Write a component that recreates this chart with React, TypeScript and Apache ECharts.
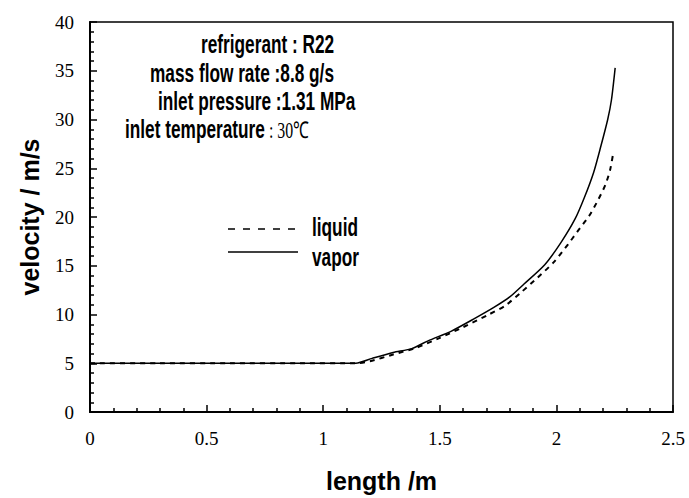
import React, { useEffect, useRef } from "react";
import * as echarts from "echarts";

const vaporLength = [0, 0.3, 0.6, 0.9, 1.14, 1.21, 1.3, 1.38, 1.45, 1.55, 1.65, 1.73, 1.8, 1.86, 1.95, 2.02, 2.08, 2.12, 2.16, 2.19, 2.22, 2.236, 2.252];
const vaporVelocity = [5.0, 5.0, 5.0, 5.0, 5.0, 5.5, 6.1, 6.5, 7.3, 8.3, 9.6, 10.7, 11.8, 13.1, 15.1, 17.4, 19.8, 22.0, 24.6, 27.2, 30.0, 32.0, 35.3];

const liquidLength = [0, 0.3, 0.6, 0.9, 1.14, 1.2, 1.3, 1.4, 1.5, 1.6, 1.71, 1.78, 1.85, 1.92, 1.99, 2.05, 2.09, 2.14, 2.18, 2.21, 2.23, 2.244];
const liquidVelocity = [5.0, 5.0, 5.0, 5.0, 5.0, 5.2, 5.9, 6.6, 7.6, 8.7, 10.0, 10.9, 12.3, 13.8, 15.4, 17.2, 18.5, 20.1, 21.8, 23.3, 24.8, 26.6];

const annotationLines = [
  { text: "refrigerant : R22", x: 201, y: 45 },
  { text: "mass flow rate :8.8 g/s", x: 150, y: 74 },
  { text: "inlet pressure :1.31 MPa", x: 158, y: 102 },
];
const tempLabel = "inlet temperature";
const tempValue = " : 30℃";

const xName = "length /m";
const yName = "velocity / m/s";

export default function App() {
  const ref = useRef<HTMLDivElement>(null);
  useEffect(() => {
    if (!ref.current) return;
    const chart = echarts.init(ref.current, null, { renderer: "svg" });
    const sans = "Liberation Sans";
    const serif = "serif";
    const textStyleBold = (t: string) => ({
      text: t,
      fill: "#000",
      fontFamily: sans,
      fontWeight: "bold",
      fontSize: 25,
      verticalAlign: "middle",
      textAlign: "left",
    });
    const graphics: any[] = annotationLines.map((a) => ({
      type: "text",
      x: a.x,
      y: a.y,
      scaleX: 0.69,
      style: textStyleBold(a.text),
    }));
    graphics.push({
      type: "text",
      x: 125,
      y: 130,
      scaleX: 0.69,
      style: {
        text: `{b|${tempLabel}}{r|${tempValue}}`,
        verticalAlign: "middle",
        textAlign: "left",
        rich: {
          b: { fontFamily: sans, fontWeight: "bold", fontSize: 25, fill: "#000" },
          r: { fontFamily: serif, fontSize: 23, fill: "#000" },
        },
      },
    });
    graphics.push(
      { type: "line", shape: { x1: 228, y1: 229, x2: 298, y2: 229 }, style: { stroke: "#000", lineWidth: 1.5, lineDash: [7, 8] } },
      { type: "line", shape: { x1: 228, y1: 252, x2: 298, y2: 252 }, style: { stroke: "#000", lineWidth: 1.5 } },
      { type: "text", x: 312, y: 228, scaleX: 0.69, style: textStyleBold("liquid") },
      { type: "text", x: 312, y: 258, scaleX: 0.69, style: textStyleBold("vapor") }
    );

    const labelStyle = { fontFamily: serif, fontSize: 19, color: "#000" };

    chart.setOption({
      animation: false,
      backgroundColor: "#fff",
      textStyle: { fontFamily: serif },
      grid: { left: 90, right: 16, top: 22, bottom: 84, show: true, borderColor: "#000", borderWidth: 1.5, backgroundColor: "transparent" },
      xAxis: {
        type: "value",
        min: 0,
        max: 2.5,
        interval: 0.5,
        name: xName,
        nameLocation: "middle",
        nameGap: 56,
        nameTextStyle: { fontFamily: sans, fontWeight: "bold", fontSize: 25, color: "#000" },
        axisLine: { show: true, lineStyle: { color: "#000", width: 2 } },
        axisTick: { show: true, inside: true, length: 7, lineStyle: { color: "#000", width: 1.5 } },
        minorTick: { show: true, splitNumber: 5, length: 4, lineStyle: { color: "#000", width: 1.5 } },
        splitLine: { show: false },
        axisLabel: { ...labelStyle, margin: 17 },
      },
      yAxis: {
        type: "value",
        min: 0,
        max: 40,
        interval: 5,
        name: yName,
        nameLocation: "middle",
        nameGap: 48,
        nameTextStyle: { fontFamily: sans, fontWeight: "bold", fontSize: 25, color: "#000" },
        axisLine: { show: true, lineStyle: { color: "#000", width: 2 } },
        axisTick: { show: true, inside: true, length: 7, lineStyle: { color: "#000", width: 1.5 } },
        minorTick: { show: true, splitNumber: 5, length: 4, lineStyle: { color: "#000", width: 1.5 } },
        splitLine: { show: false },
        axisLabel: { ...labelStyle, margin: 16 },
      },
      series: [
        {
          name: "vapor",
          type: "line",
          data: vaporLength.map((x, i) => [x, vaporVelocity[i]]),
          showSymbol: false,
          smooth: 0.25,
          lineStyle: { color: "#000", width: 1.5, type: "solid" },
        },
        {
          name: "liquid",
          type: "line",
          data: liquidLength.map((x, i) => [x, liquidVelocity[i]]),
          showSymbol: false,
          smooth: 0.25,
          lineStyle: { color: "#000", width: 2, type: [5, 5] },
        },
      ],
      graphic: graphics,
    });
    return () => chart.dispose();
  }, []);
  return <div ref={ref} style={{ position: "fixed", left: 0, top: 0, width: 689, height: 498 }} />;
}
